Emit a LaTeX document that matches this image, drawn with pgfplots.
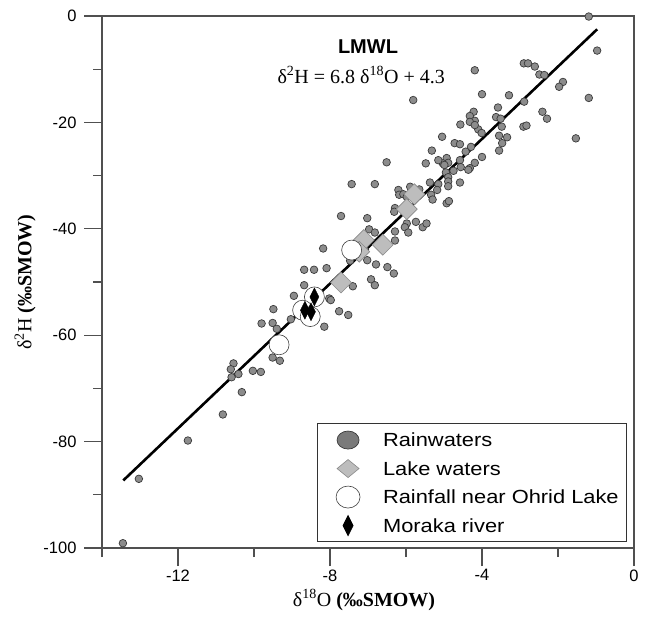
\documentclass[border=0pt]{standalone}
\usepackage{fontspec}
\setmainfont{Liberation Serif}
\newfontfamily\sansf{Liberation Sans}
\newfontfamily\legf[FakeStretch=1.15]{Liberation Sans}
\usepackage{pgfplots}
\pgfplotsset{compat=1.18}
\definecolor{rainfill}{HTML}{8C8C8C}
\definecolor{rainedge}{HTML}{3A3A3A}
\definecolor{rainleg}{HTML}{7A7A7A}
\definecolor{lakefill}{HTML}{BDBDBD}
\definecolor{lakeedge}{HTML}{8A8A8A}
\definecolor{axisgray}{HTML}{505050}
\begin{document}
\begin{tikzpicture}[x=1pt,y=1pt]
\useasboundingbox (0,0) rectangle (648,625);
\begin{axis}[
  at={(102pt,77pt)}, anchor=south west,
  scale only axis, width=532pt, height=532pt,
  xmin=-14, xmax=0, ymin=-100, ymax=0,
  clip=false,
  axis line style={draw=axisgray, line width=1.2pt},
  every tick/.style={draw=axisgray, line width=1.2pt},
  tick align=outside, tick pos=left,
  major tick length=18pt, minor tick length=9pt,
  xtick={-12,-8,-4,0}, minor xtick={-14,-10,-6,-2},
  ytick={-100,-80,-60,-40,-20,0}, minor ytick={-90,-70,-50,-30,-10},
  tick label style={font=\fontsize{16.5}{19}\sansf},
  yticklabel shift=4pt,
  /pgf/number format/assume math mode=true,
  xlabel={\fontsize{20}{24}\selectfont δ\textsuperscript{18}O \textbf{(‰SMOW)}},
  ylabel={\fontsize{20}{24}\selectfont δ\textsuperscript{2}H \textbf{(‰SMOW)}},
  every axis x label/.style={at={(axis description cs:0.4925,-0.0977)}, anchor=center},
  every axis y label/.style={at={(axis description cs:-0.1447,0.5)}, anchor=center, rotate=90},
  legend style={at={(axis description cs:0.987,0.011)}, anchor=south east,
    draw=black!80, line width=0.8pt, fill=white,
    font=\fontsize{19}{22}\legf,
    inner xsep=8pt, inner ysep=9.4pt,
    row sep=14.9pt,
    nodes={inner sep=0pt, text height=13.6pt, text depth=0pt}},
  legend cell align=left,
]
\addplot[only marks, mark=*, mark size=3.8pt,
  mark options={fill=rainfill, draw=rainedge, line width=0.7pt},
  legend image code/.code={
    \draw[overlay, fill=rainleg, draw=rainedge, line width=0.7pt] (23pt,0pt) ellipse [x radius=11pt, y radius=9pt];
    \path[draw=none, fill=none] (0pt,-5pt) rectangle (58pt,5pt);}]
coordinates {
(-1.19,-0.1) (-0.97,-6.5) (-2.90,-8.9) (-2.79,-8.9) (-2.61,-9.5) (-4.19,-10.2)
(-2.49,-11.0) (-2.36,-11.1) (-1.87,-12.4) (-1.97,-13.3) (-4.00,-14.7) (-3.29,-14.9)
(-1.19,-15.4) (-2.89,-16.1) (-3.58,-17.2) (-4.22,-18.0) (-2.41,-18.0) (-2.29,-19.3)
(-4.32,-18.8) (-4.19,-19.7) (-4.32,-19.9) (-4.57,-20.4) (-3.63,-19.0) (-3.51,-19.3)
(-3.48,-20.8) (-2.91,-20.8) (-2.83,-20.6) (-4.10,-21.3) (-4.01,-22.0) (-3.55,-22.5)
(-3.34,-22.8) (-1.53,-23.0) (-5.05,-22.7) (-4.72,-23.9) (-4.58,-24.1) (-3.47,-23.9)
(-3.55,-25.3) (-4.29,-24.6) (-4.43,-25.5) (-4.00,-26.5) (-4.19,-27.6) (-4.32,-28.6)
(-4.36,-28.9) (-4.93,-26.7) (-4.89,-27.6) (-5.03,-27.7) (-4.99,-28.0) (-4.58,-27.1)
(-4.56,-28.4) (-4.75,-29.1) (-4.95,-29.4) (-4.89,-30.3) (-4.89,-31.1) (-4.89,-32.0)
(-4.58,-31.3) (-5.37,-31.3) (-5.15,-31.6) (-5.18,-32.7) (-5.34,-33.6) (-5.30,-34.5)
(-4.93,-35.2) (-4.87,-34.8) (-5.81,-15.8) (-5.32,-25.3) (-6.51,-27.5) (-5.48,-27.7)
(-5.15,-27.1) (-6.82,-31.6) (-6.20,-32.7) (-6.18,-33.6) (-5.89,-32.1) (-5.65,-32.6)
(-6.29,-36.1) (-7.43,-31.6) (-6.07,-33.5) (-5.98,-34.0) (-7.71,-37.6) (-7.02,-38.0)
(-6.31,-36.8) (-5.98,-39.0) (-6.03,-39.7) (-5.94,-40.7) (-5.74,-38.7) (-5.56,-39.7)
(-5.46,-39.0) (-6.97,-40.1) (-6.82,-40.7) (-6.29,-40.5) (-6.29,-42.2) (-8.18,-43.7)
(-7.08,-44.0) (-7.02,-45.9) (-7.47,-46.0) (-6.79,-46.7) (-6.49,-47.2) (-6.32,-48.4)
(-8.68,-47.7) (-8.42,-47.7) (-8.09,-47.4) (-8.68,-50.6) (-6.92,-49.5) (-6.82,-50.6)
(-7.40,-50.8) (-8.95,-52.6) (-8.02,-53.1) (-7.98,-53.4) (-9.49,-55.1) (-9.80,-57.8)
(-9.51,-57.7) (-9.40,-58.8) (-9.03,-57.0) (-7.76,-55.5) (-7.52,-56.2) (-8.15,-58.4)
(-9.51,-64.2) (-9.32,-64.8) (-10.54,-65.3) (-10.61,-66.4) (-10.41,-67.3) (-10.59,-67.9)
(-10.03,-66.7) (-9.82,-66.9) (-10.32,-70.7) (-10.82,-74.9) (-11.74,-79.8) (-13.03,-87.0)
(-13.45,-99.1) (-4.19,-20.5)
};
\addlegendentry{Rainwaters}
\addplot[only marks, mark=square*, mark size=7.4pt,
  mark options={rotate=45, fill=lakefill, draw=lakeedge, line width=0.6pt},
  legend image code/.code={
    \draw[overlay, fill=lakefill, draw=lakeedge, line width=0.6pt] (12pt,0pt) -- (23pt,9pt) -- (34pt,0pt) -- (23pt,-9pt) -- cycle;
    \path[draw=none, fill=none] (0pt,-5pt) rectangle (58pt,5pt);}]
coordinates {(-5.78,-33.5) (-5.98,-36.3) (-7.11,-42.1) (-6.61,-43.0) (-7.23,-44.3) (-7.71,-50.1)};
\addlegendentry{Lake waters}
\addplot[black, line width=2.6pt, forget plot] coordinates {(-13.44,-87.3) (-0.97,-2.5)};
\addplot[only marks, mark=*, mark size=10pt,
  mark options={fill=white, draw=black!75, line width=0.6pt},
  legend image code/.code={
    \draw[overlay, fill=white, draw=black!75, line width=0.6pt] (23pt,0pt) ellipse [x radius=12pt, y radius=11pt];
    \path[draw=none, fill=none] (0pt,-5pt) rectangle (58pt,5pt);}]
coordinates {(-7.43,-44.0) (-8.41,-52.8) (-8.72,-55.3) (-8.52,-56.5) (-9.34,-61.8)};
\addlegendentry{Rainfall near Ohrid Lake}
\addplot[only marks, mark=diamond*, mark size=9pt,
  mark options={xscale=0.667, fill=black, draw=black},
  legend image code/.code={
    \draw[overlay, fill=black] (18pt,0pt) -- (23pt,10pt) -- (28pt,0pt) -- (23pt,-10pt) -- cycle;
    \path[draw=none, fill=none] (0pt,-5pt) rectangle (58pt,5pt);}]
coordinates {(-8.41,-52.8) (-8.66,-55.3) (-8.50,-55.6)};
\addlegendentry{Moraka river}
\node[font=\fontsize{20}{24}\sansf\bfseries, anchor=base] at (axis cs:-7.0,-7.0) {LMWL};
\node[font=\fontsize{20}{24}\selectfont, anchor=base] at (axis cs:-7.18,-12.6) {δ\textsuperscript{2}H = 6.8 δ\textsuperscript{18}O + 4.3};
\end{axis}
\end{tikzpicture}
\end{document}
